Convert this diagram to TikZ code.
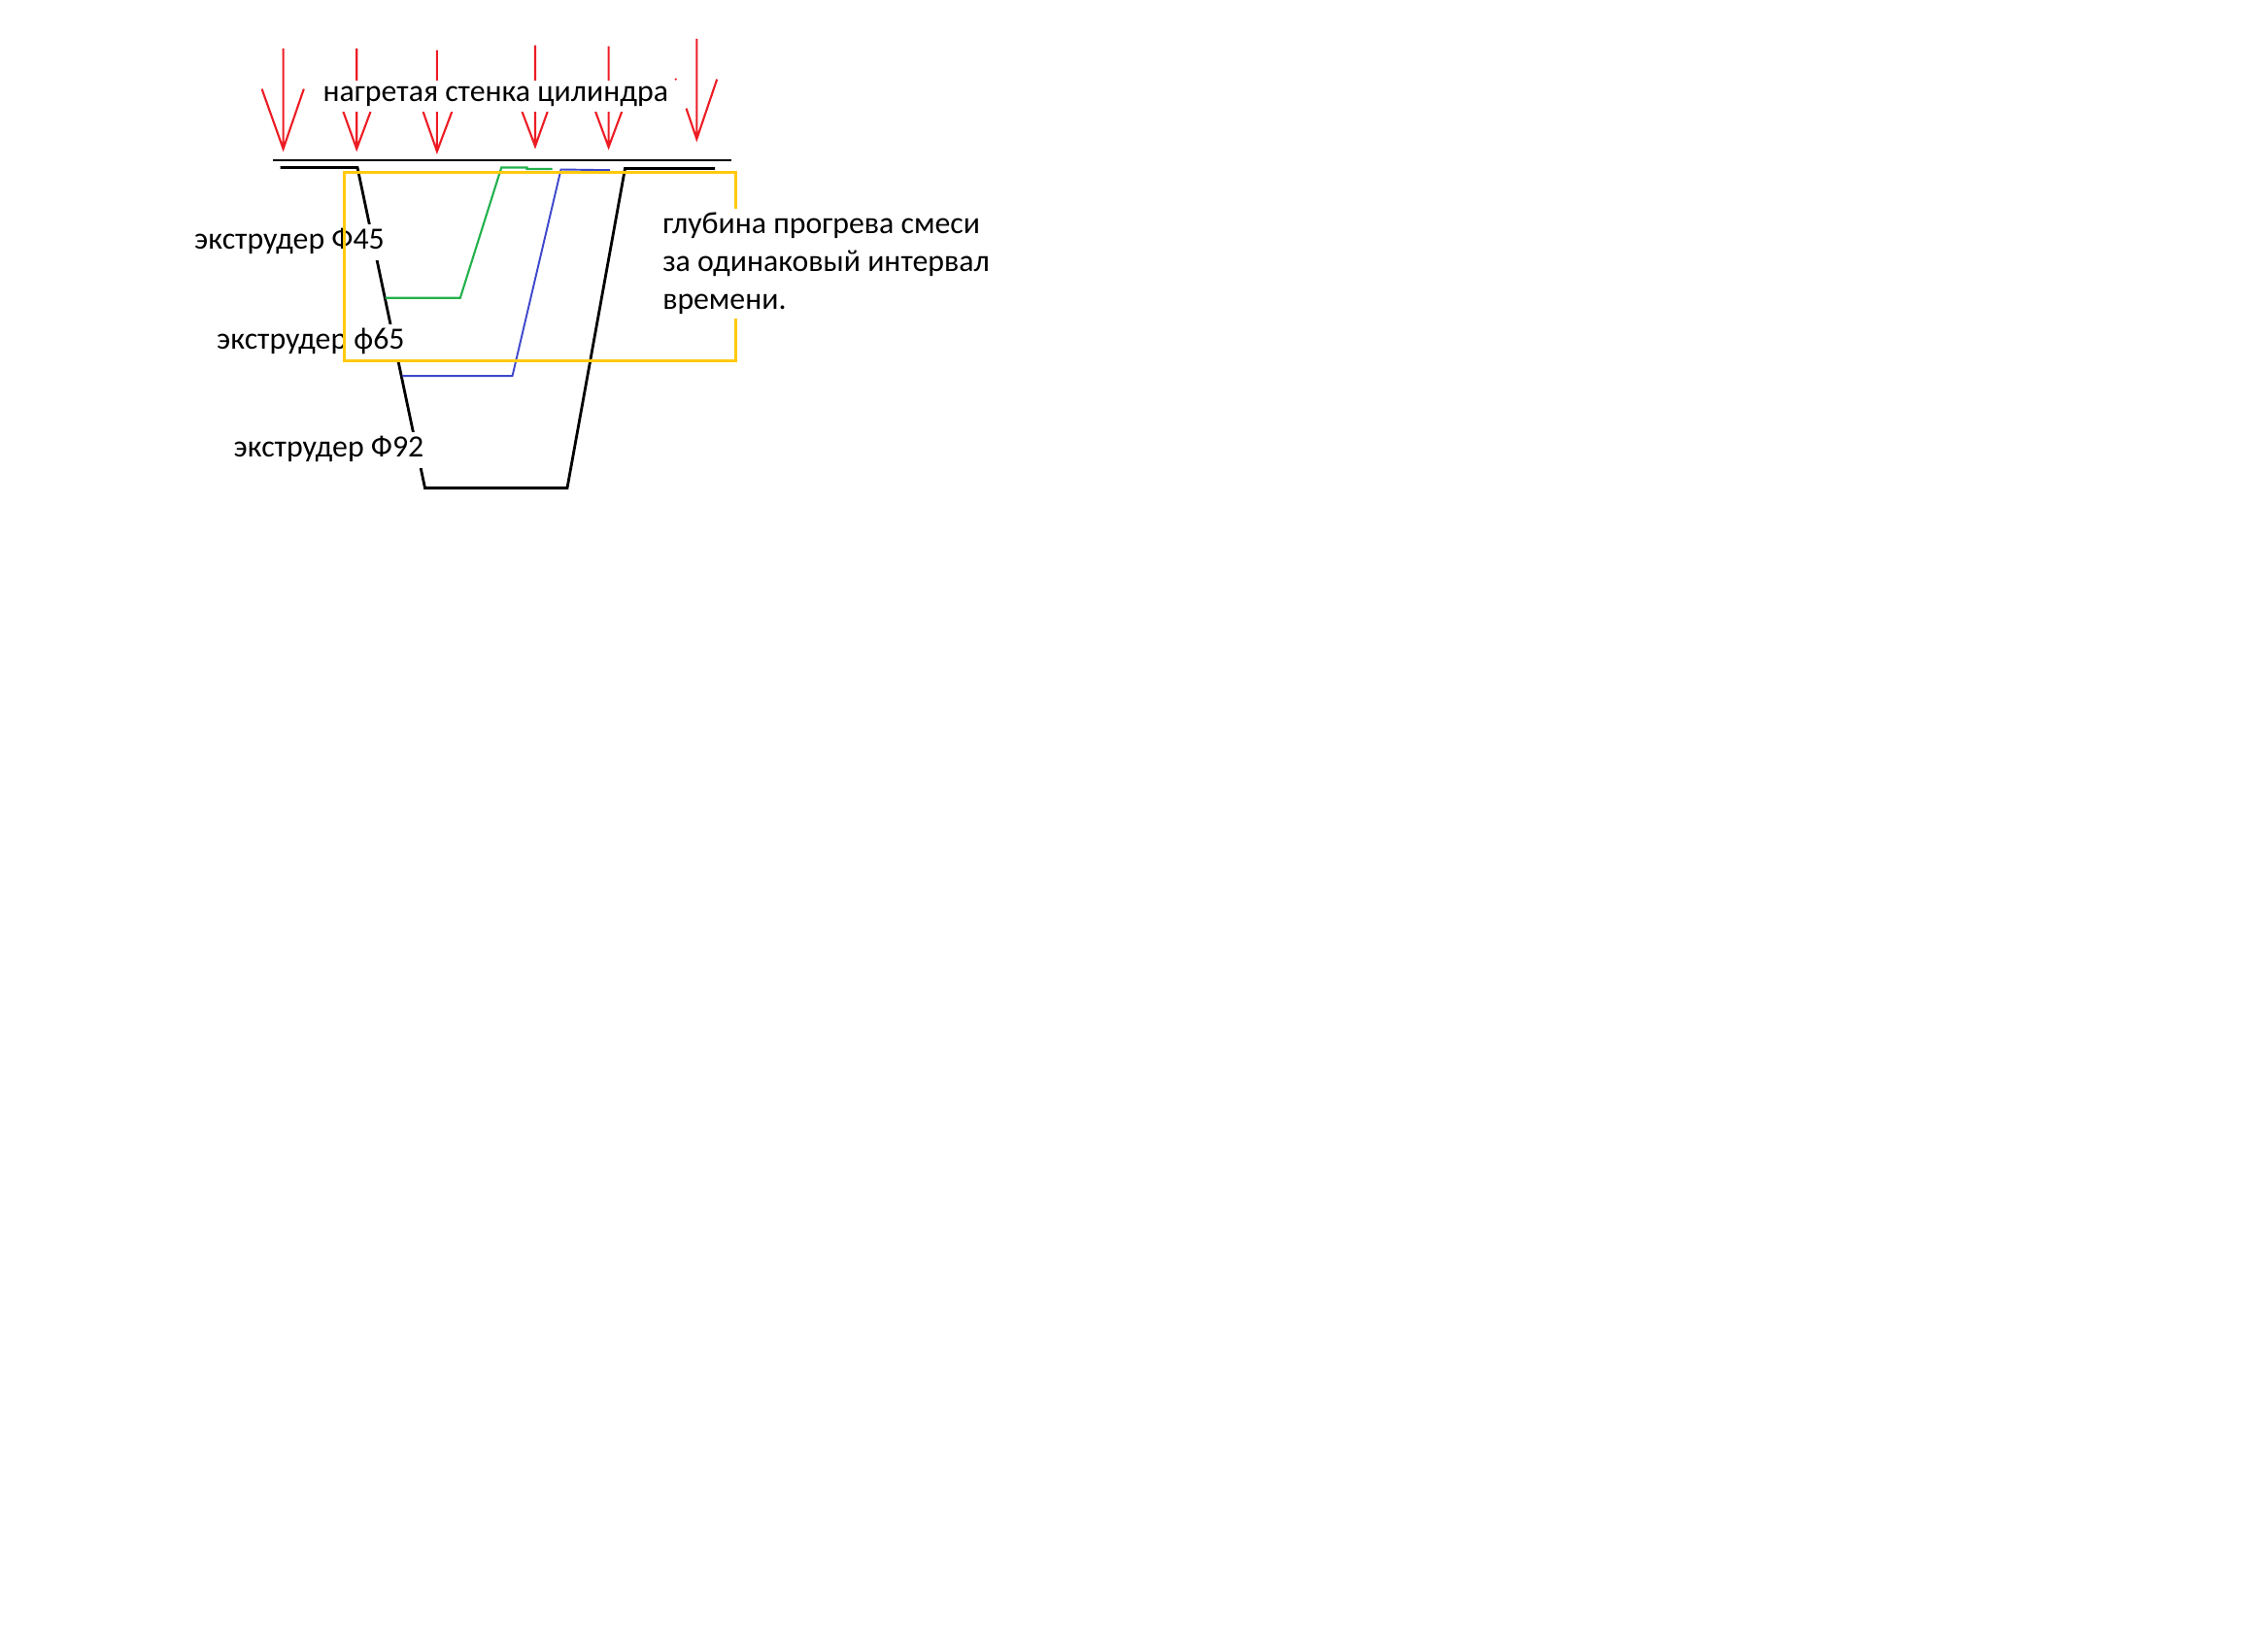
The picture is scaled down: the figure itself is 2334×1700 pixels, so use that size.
\documentclass[tikz,border=0pt]{standalone}
\usepackage{fontspec}
\setmainfont{Carlito}
\usepackage{xcolor}
\definecolor{paintred}{RGB}{237,28,36}
\definecolor{paintgreen}{RGB}{34,177,76}
\definecolor{paintblue}{RGB}{63,72,204}
\definecolor{paintyellow}{RGB}{255,201,14}
\begin{document}
\begin{tikzpicture}[
  x=0.01cm, y=-0.01cm,
  font=\fontsize{9.05}{11}\selectfont,
  % --- Стили ---
  wall/.style={
    draw=black,
    line width=0.8pt
  },
  heat/.style={
    draw=paintred,
    line width=0.6pt
  },
  zone/.style={
    draw=paintyellow,
    line width=0.85pt
  },
  caption/.style={
    fill=white,
    inner sep=0pt,
    text height=6.3pt,
    text depth=2.9pt,
    anchor=base west
  },
  tag/.style={
    fill=white,
    inner xsep=1pt,
    inner ysep=0pt,
    text height=7.2pt,
    text depth=3.4pt,
    anchor=base west
  },
  note/.style={
    fill=white,
    inner sep=1.3pt,
    align=left,
    anchor=north west
  }
]
\useasboundingbox (0,0) rectangle (2334,1700);

% ---- ТЕПЛОВОЙ ПОТОК ----
\foreach \x/\t/\e/\lx/\ly/\rx/\ry in {
    291.6/50/153.3/269.6/91.6/312.8/91.6,
    367.2/50/153.3/353.4/115/381.5/115,
    449.9/51.6/155.9/435.6/115/465.3/115,
    551/46.7/150.6/537.5/115/563.7/115,
    626.6/47.7/151.5/613.1/115/640.2/115,
    717.3/40/143.2/706.5/111.6/738.2/81.6}
  \draw[heat] (\x,\t) -- (\x,\e) (\lx,\ly) -- (\x,\e) -- (\rx,\ry);
\fill[paintred] (695.7,81.6) circle (1.2);

\node[caption] (hot) at (332,105) {нагретая стенка цилиндра};

% ---- СТЕНКА И КАНАЛ Ф92 ----
\draw[wall, line width=0.77pt] (281,165) -- (753,165);
\draw[wall] (288.5,172.5) -- (368,172.5) -- (437.5,502.4) -- (584,502.4)
  -- (643.5,173.5) -- (736,173.5);

% ---- КАНАЛЫ Ф45 И ф65 ----
\draw[paintgreen, line width=0.6pt] (396.6,306.8) -- (473.8,306.8) -- (516.2,172.5)
  -- (542.5,172.5) -- (542.5,174) -- (568.7,174);
\draw[paintblue, line width=0.55pt] (414,387.2) -- (527.5,387.2) -- (577.5,174.5)
  -- (628,175.2);

% ---- ПОДПИСИ ----
\node[tag] (e45) at (196,256.5) {экструдер Ф45};
\node[tag] (e65) at (219,359.4) {экструдер ф65};
\node[tag] (e92) at (236.5,470) {экструдер Ф92};

% ---- ЗОНА ПРОГРЕВА ----
\draw[zone] (354,177.5) rectangle (757,371.1);
\node[note] (depth) at (677,214) {глубина прогрева смеси\\за одинаковый интервал\\времени.};

\end{tikzpicture}
\end{document}
